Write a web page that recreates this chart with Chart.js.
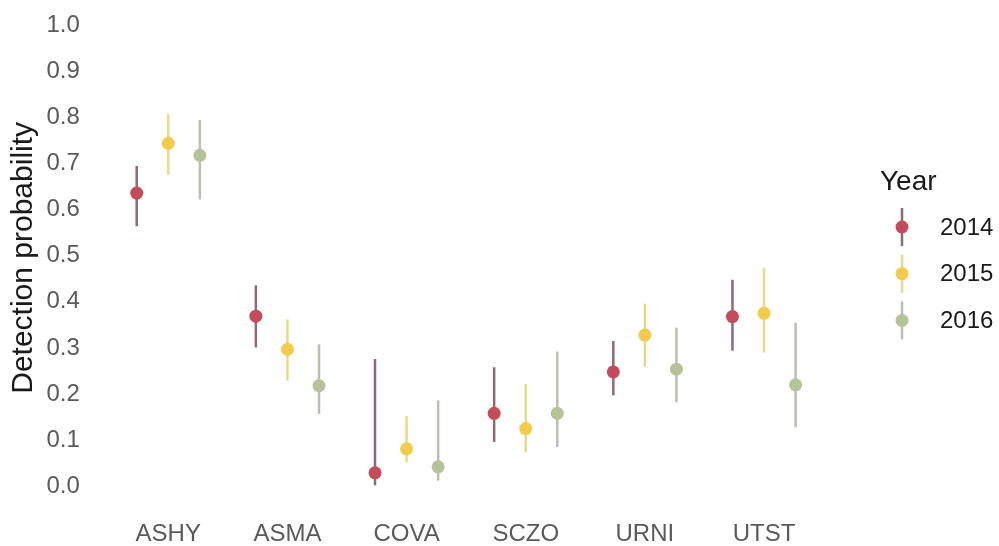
<!DOCTYPE html>
<html>
<head>
<meta charset="utf-8">
<script src="https://cdn.jsdelivr.net/npm/chart.js@4/dist/chart.umd.min.js"></script>
<style>
  body { margin: 0; background: #fff; }
  .wrap { width: 999px; height: 546px; position: relative; }
</style>
</head>
<body>
<div class="wrap"><canvas id="myChart"></canvas></div>
<script>
const species = ["ASHY", "ASMA", "COVA", "SCZO", "URNI", "UTST"];
const years = ["2014", "2015", "2016"];
const yTickValues = [0, 0.1, 0.2, 0.3, 0.4, 0.5, 0.6, 0.7, 0.8, 0.9, 1.0];

// estimate and interval per species
const est2014 = [0.636, 0.369, 0.029, 0.158, 0.248, 0.368];
const lo2014 = [0.564, 0.301, 0.002, 0.096, 0.197, 0.294];
const hi2014 = [0.695, 0.436, 0.276, 0.258, 0.315, 0.448];

const est2015 = [0.744, 0.297, 0.081, 0.125, 0.328, 0.375];
const lo2015 = [0.676, 0.229, 0.052, 0.074, 0.259, 0.290];
const hi2015 = [0.808, 0.362, 0.152, 0.222, 0.396, 0.474];

const est2016 = [0.718, 0.218, 0.042, 0.158, 0.254, 0.220];
const lo2016 = [0.622, 0.157, 0.012, 0.085, 0.182, 0.128];
const hi2016 = [0.795, 0.308, 0.186, 0.292, 0.344, 0.355];

const estimates = [est2014, est2015, est2016];
const lows = [lo2014, lo2015, lo2016];
const highs = [hi2014, hi2015, hi2016];

const pointColors = ["#c44b5a", "#f2cb4c", "#b5c39a"];
const lineColors = ["#8d6b72", "#e9d98c", "#b9c0ae"];
const dodge = [-0.265, 0, 0.265];

const fontFamily = "'Liberation Sans', Arial, sans-serif";

const datasets = years.map((yr, k) => ({
  label: yr,
  data: estimates[k].map((v, i) => ({ x: i + 1 + dodge[k], y: v })),
  backgroundColor: pointColors[k],
  borderWidth: 0,
  pointRadius: 6.5,
  lo: lows[k],
  hi: highs[k],
}));

// vertical interval lines behind the points
const errorBars = {
  id: "errorBars",
  beforeDatasetsDraw(chart) {
    const { ctx, scales } = chart;
    ctx.save();
    ctx.lineWidth = 2.5;
    chart.data.datasets.forEach((ds, k) => {
      ctx.strokeStyle = lineColors[k];
      ds.data.forEach((pt, i) => {
        const x = scales.x.getPixelForValue(pt.x);
        ctx.beginPath();
        ctx.moveTo(x, scales.y.getPixelForValue(ds.lo[i]));
        ctx.lineTo(x, scales.y.getPixelForValue(ds.hi[i]));
        ctx.stroke();
      });
    });
    ctx.restore();
  },
};

// legend on the right with the point + line key
const yearLegend = {
  id: "yearLegend",
  afterDraw(chart) {
    const ctx = chart.ctx;
    ctx.save();
    ctx.textBaseline = "middle";
    ctx.textAlign = "left";
    ctx.fillStyle = "#1a1a1a";
    ctx.font = "28px " + fontFamily;
    ctx.fillText("Year", 880, 182);
    ctx.font = "24px " + fontFamily;
    years.forEach((yr, k) => {
      const cy = 227 + k * 46.7;
      ctx.strokeStyle = lineColors[k];
      ctx.lineWidth = 2.5;
      ctx.beginPath();
      ctx.moveTo(902, cy - 19);
      ctx.lineTo(902, cy + 19);
      ctx.stroke();
      ctx.fillStyle = pointColors[k];
      ctx.beginPath();
      ctx.arc(902, cy, 6.5, 0, Math.PI * 2);
      ctx.fill();
      ctx.fillStyle = "#1a1a1a";
      ctx.fillText(yr, 940, cy + 1);
    });
    ctx.restore();
  },
};

const ctx = document.getElementById("myChart").getContext("2d");
const myChart = new Chart(ctx, {
  type: "scatter",
  data: { datasets },
  plugins: [errorBars, yearLegend],
  options: {
    responsive: true,
    maintainAspectRatio: false,
    animation: false,
    layout: { padding: { left: 0, right: 163.5, top: 0, bottom: 0 } },
    plugins: { legend: { display: false }, tooltip: { enabled: false } },
    scales: {
      x: {
        type: "linear",
        min: 0.4,
        max: 6.6,
        grid: { display: false, drawTicks: false },
        border: { display: false },
        afterBuildTicks: (axis) => {
          axis.ticks = species.map((s, i) => ({ value: i + 1 }));
        },
        afterFit: (axis) => {
          axis.height = 36.8;
          axis.paddingLeft = 0;
          axis.paddingRight = 0;
        },
        ticks: {
          autoSkip: false,
          maxRotation: 0,
          padding: 11,
          color: "#5a5a5a",
          font: { family: fontFamily, size: 24 },
          callback: (v) => species[Math.round(v) - 1],
        },
      },
      y: {
        min: -0.05,
        max: 1.041,
        grid: { display: false, drawTicks: false },
        border: { display: false },
        afterBuildTicks: (axis) => {
          axis.ticks = yTickValues.map((v) => ({ value: v }));
        },
        afterFit: (axis) => {
          axis.width = 96.8;
          axis.paddingTop = 0;
          axis.paddingBottom = 0;
        },
        ticks: {
          padding: 17,
          color: "#5a5a5a",
          font: { family: fontFamily, size: 24 },
          callback: (v) => v.toFixed(1),
        },
        title: {
          display: true,
          text: "Detection probability",
          color: "#1a1a1a",
          padding: { top: 6, bottom: 0 },
          font: { family: fontFamily, size: 30 },
        },
      },
    },
  },
});
</script>
</body>
</html>
